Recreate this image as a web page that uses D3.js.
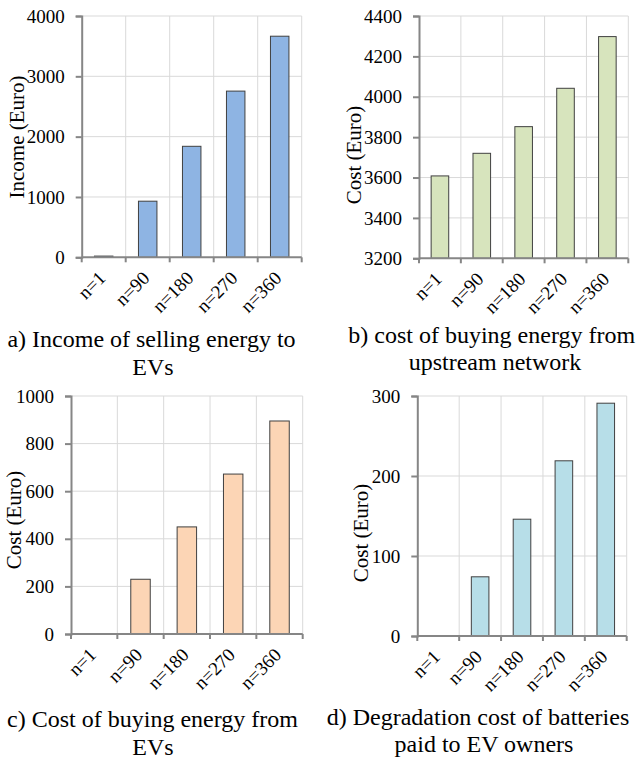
<!DOCTYPE html>
<html>
<head>
<meta charset="utf-8">
<script src="https://cdn.jsdelivr.net/npm/d3@7"></script>
<style>
  body { margin: 0; background: #fff; }
  svg text { font-family: "Liberation Serif", "Times New Roman", serif; fill: #000; }
</style>
</head>
<body>
<svg id="chart" width="641" height="760"></svg>
<script>
// values
const categories = ["n=1", "n=90", "n=180", "n=270", "n=360"];

const incomeSelling = [20, 930, 1840, 2755, 3665];
const costUpstream = [3608, 3720, 3852, 4042, 4298];
const costFromEVs = [0, 230, 450, 672, 895];
const degradationCost = [0, 74, 146, 219, 291];

const ticksA = [0, 1000, 2000, 3000, 4000];
const ticksB = [3200, 3400, 3600, 3800, 4000, 4200, 4400];
const ticksC = [0, 200, 400, 600, 800, 1000];
const ticksD = [0, 100, 200, 300];

const captionA = ["a) Income of selling energy to", "EVs"];
const captionB = ["b) cost of buying energy from", "upstream network"];
const captionC = ["c) Cost of buying energy from", "EVs"];
const captionD = ["d) Degradation cost of batteries", "paid to EV owners"];

const svg = d3.select("#chart");

function drawPanel({ values, ticks, yTitle, caption, color, box, titlePos, capPos }) {
  const g = svg.append("g");

  const x = d3.scaleBand()
    .domain(categories)
    .range([box.left, box.right])
    .paddingInner(0.58)
    .paddingOuter(0.29);

  const y = d3.scaleLinear()
    .domain([ticks[0], ticks[ticks.length - 1]])
    .range([box.bottom, box.top]);

  // band boundaries, used for vertical grid and x ticks
  const step = (box.right - box.left) / categories.length;
  const bounds = d3.range(categories.length + 1).map(i => box.left + i * step);

  // horizontal grid
  g.selectAll(".hgrid")
    .data(ticks.slice(1))
    .join("line")
    .attr("x1", box.left).attr("x2", box.right)
    .attr("y1", d => y(d)).attr("y2", d => y(d))
    .attr("stroke", "#d9d9d9").attr("stroke-width", 1);

  // vertical grid
  g.selectAll(".vgrid")
    .data(bounds.slice(1))
    .join("line")
    .attr("x1", d => d).attr("x2", d => d)
    .attr("y1", box.top).attr("y2", box.bottom)
    .attr("stroke", "#d9d9d9").attr("stroke-width", 1);

  // bars
  g.selectAll(".bar")
    .data(categories.map((c, i) => ({ c, v: values[i] })).filter(d => d.v > ticks[0]))
    .join("rect")
    .attr("x", d => x(d.c))
    .attr("width", x.bandwidth())
    .attr("y", d => y(d.v))
    .attr("height", d => y(ticks[0]) - y(d.v))
    .attr("fill", color)
    .attr("stroke", "#404040")
    .attr("stroke-width", 1);

  // y axis
  const yAxis = g.append("g")
    .attr("transform", `translate(${box.left},0)`)
    .call(d3.axisLeft(y).tickValues(ticks).tickSize(6).tickPadding(11).tickFormat(d3.format("d")));
  yAxis.selectAll("text").style("font-size", "19px");

  // x axis line + ticks at band boundaries
  g.append("line")
    .attr("x1", box.left).attr("x2", box.right)
    .attr("y1", box.bottom).attr("y2", box.bottom)
    .attr("stroke", "#868686").attr("stroke-width", 2);
  g.selectAll(".xtick")
    .data(bounds)
    .join("line")
    .attr("x1", d => d).attr("x2", d => d)
    .attr("y1", box.bottom).attr("y2", box.bottom + 5)
    .attr("stroke", "#868686").attr("stroke-width", 2);

  yAxis.select(".domain").attr("stroke", "#868686").attr("stroke-width", 2);
  yAxis.selectAll(".tick line").attr("stroke", "#868686").attr("stroke-width", 2);

  // rotated category labels
  g.selectAll(".xlabel")
    .data(categories)
    .join("text")
    .attr("transform", d => `translate(${x(d) + x.bandwidth() / 2 + 3},${box.bottom + 22}) rotate(-45)`)
    .attr("text-anchor", "end")
    .style("font-size", "19px")
    .text(d => d);

  // y title
  g.append("text")
    .attr("transform", `translate(${titlePos.x},${titlePos.y}) rotate(-90)`)
    .attr("text-anchor", "middle")
    .style("font-size", "21px")
    .text(yTitle);

  // caption, two lines
  g.selectAll(".caption")
    .data(caption)
    .join("text")
    .attr("x", (d, i) => capPos.x[i])
    .attr("y", (d, i) => capPos.y[i])
    .attr("text-anchor", "middle")
    .style("font-size", "24px")
    .text(d => d);
}

drawPanel({
  values: incomeSelling, ticks: ticksA, yTitle: "Income (Euro)", caption: captionA,
  color: "#8eb4e3",
  box: { left: 81.7, right: 301.7, top: 16, bottom: 257.3 },
  titlePos: { x: 24, y: 137 },
  capPos: { x: [151.5, 153], y: [346.5, 375] }
});

drawPanel({
  values: costUpstream, ticks: ticksB, yTitle: "Cost (Euro)", caption: captionB,
  color: "#d7e4bd",
  box: { left: 419, right: 628.3, top: 16, bottom: 258.3 },
  titlePos: { x: 361, y: 155 },
  capPos: { x: [491.7, 495], y: [343, 370] }
});

drawPanel({
  values: costFromEVs, ticks: ticksC, yTitle: "Cost (Euro)", caption: captionC,
  color: "#fcd5b5",
  box: { left: 71, right: 302.7, top: 396, bottom: 634 },
  titlePos: { x: 21, y: 520 },
  capPos: { x: [152.5, 153], y: [726.5, 755] }
});

drawPanel({
  values: degradationCost, ticks: ticksD, yTitle: "Cost (Euro)", caption: captionD,
  color: "#b7dee8",
  box: { left: 417.3, right: 626.7, top: 396, bottom: 636 },
  titlePos: { x: 368, y: 533 },
  capPos: { x: [478, 484], y: [725, 752] }
});
</script>
</body>
</html>
